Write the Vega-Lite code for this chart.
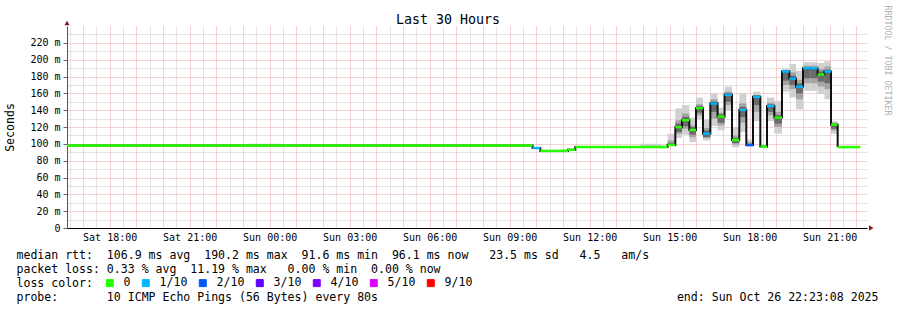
{
  "$schema": "https://vega.github.io/schema/vega-lite/v6.json",
  "width": 800,
  "height": 202,
  "autosize": {"type": "none"},
  "padding": {"left": 67, "top": 26, "right": 30, "bottom": 82},
  "background": "#ffffff",
  "config": {"view": {"stroke": null}, "font": "DejaVu Sans Mono"},
  "title": {"text": "Last 30 Hours", "font": "DejaVu Sans Mono", "fontSize": 13.3, "fontWeight": "normal", "color": "#000000", "anchor": "middle", "frame": "group", "dx": -19, "dy": 23, "offset": 2},
  "datasets": {
    "steps": [
      {"t0": 16.4, "t1": 33.86, "med": 98, "loss": "0"},
      {"t0": 33.86, "t1": 34.15, "med": 95, "loss": "1/10"},
      {"t0": 34.15, "t1": 35.19, "med": 91.6, "loss": "0"},
      {"t0": 35.19, "t1": 35.46, "med": 93, "loss": "0"},
      {"t0": 35.46, "t1": 38.923, "med": 96.3, "loss": "0"},
      {"t0": 38.923, "t1": 39.212, "med": 98.7, "loss": "0"},
      {"t0": 39.212, "t1": 39.461, "med": 119.7, "loss": "0"},
      {"t0": 39.461, "t1": 39.737, "med": 128, "loss": "0"},
      {"t0": 39.737, "t1": 39.987, "med": 116.5, "loss": "0"},
      {"t0": 39.987, "t1": 40.25, "med": 142.3, "loss": "0"},
      {"t0": 40.25, "t1": 40.525, "med": 112.1, "loss": "1/10"},
      {"t0": 40.525, "t1": 40.797, "med": 147.8, "loss": "1/10"},
      {"t0": 40.797, "t1": 41.06, "med": 132.4, "loss": "0"},
      {"t0": 41.06, "t1": 41.337, "med": 158.2, "loss": "1/10"},
      {"t0": 41.337, "t1": 41.611, "med": 104.6, "loss": "0"},
      {"t0": 41.611, "t1": 41.874, "med": 140.3, "loss": "1/10"},
      {"t0": 41.874, "t1": 42.125, "med": 98.5, "loss": "2/10"},
      {"t0": 42.125, "t1": 42.4, "med": 155.8, "loss": "1/10"},
      {"t0": 42.4, "t1": 42.65, "med": 96.7, "loss": "0"},
      {"t0": 42.65, "t1": 42.925, "med": 145, "loss": "1/10"},
      {"t0": 42.925, "t1": 43.212, "med": 131.2, "loss": "0"},
      {"t0": 43.212, "t1": 43.487, "med": 185.9, "loss": "1/10"},
      {"t0": 43.487, "t1": 43.737, "med": 177.5, "loss": "1/10"},
      {"t0": 43.737, "t1": 44.0, "med": 168, "loss": "1/10"},
      {"t0": 44.0, "t1": 44.275, "med": 189.8, "loss": "1/10"},
      {"t0": 44.275, "t1": 44.548, "med": 189.8, "loss": "1/10"},
      {"t0": 44.548, "t1": 44.8, "med": 182.3, "loss": "0"},
      {"t0": 44.8, "t1": 45.05, "med": 185.9, "loss": "1/10"},
      {"t0": 45.05, "t1": 45.3, "med": 122.8, "loss": "0"},
      {"t0": 45.3, "t1": 46.15, "med": 96.1, "loss": "0"}
    ],
    "smoke": [
      {"t0": 23.15, "t1": 24.5, "lo": 97, "q1": 98, "q3": 98, "hi": 100, "c1": 98, "c2": 98},
      {"t0": 37.9, "t1": 38.7, "lo": 96, "q1": 96, "q3": 96, "hi": 100, "c1": 96, "c2": 96},
      {"t0": 38.923, "t1": 39.212, "lo": 98, "q1": 99, "q3": 104, "hi": 112, "c1": 99, "c2": 101},
      {"t0": 39.212, "t1": 39.461, "lo": 107, "q1": 112, "q3": 128, "hi": 142, "c1": 114, "c2": 124},
      {"t0": 39.461, "t1": 39.737, "lo": 111, "q1": 118, "q3": 136, "hi": 146, "c1": 121, "c2": 132},
      {"t0": 39.737, "t1": 39.987, "lo": 102, "q1": 108, "q3": 122, "hi": 131, "c1": 111, "c2": 120},
      {"t0": 39.987, "t1": 40.25, "lo": 129, "q1": 134, "q3": 147, "hi": 155, "c1": 137, "c2": 145},
      {"t0": 40.25, "t1": 40.525, "lo": 104, "q1": 107, "q3": 119, "hi": 129, "c1": 108, "c2": 116},
      {"t0": 40.525, "t1": 40.797, "lo": 121, "q1": 130, "q3": 153, "hi": 160, "c1": 138, "c2": 150},
      {"t0": 40.797, "t1": 41.06, "lo": 116, "q1": 122, "q3": 137, "hi": 143, "c1": 125, "c2": 135},
      {"t0": 41.06, "t1": 41.337, "lo": 139, "q1": 146, "q3": 162, "hi": 168, "c1": 150, "c2": 160},
      {"t0": 41.337, "t1": 41.611, "lo": 96, "q1": 99, "q3": 110, "hi": 120, "c1": 101, "c2": 107},
      {"t0": 41.611, "t1": 41.874, "lo": 114, "q1": 125, "q3": 148, "hi": 160, "c1": 132, "c2": 144},
      {"t0": 41.874, "t1": 42.125, "lo": 97, "q1": 98, "q3": 102, "hi": 105, "c1": 98, "c2": 100},
      {"t0": 42.125, "t1": 42.4, "lo": 127, "q1": 138, "q3": 158, "hi": 162, "c1": 146, "c2": 157},
      {"t0": 42.65, "t1": 42.925, "lo": 127, "q1": 134, "q3": 149, "hi": 155, "c1": 138, "c2": 147},
      {"t0": 42.925, "t1": 43.212, "lo": 112, "q1": 120, "q3": 138, "hi": 151, "c1": 124, "c2": 134},
      {"t0": 43.212, "t1": 43.487, "lo": 162, "q1": 170, "q3": 187, "hi": 189, "c1": 175, "c2": 186},
      {"t0": 43.487, "t1": 43.737, "lo": 155, "q1": 165, "q3": 185, "hi": 195, "c1": 170, "c2": 181},
      {"t0": 43.737, "t1": 44.0, "lo": 141, "q1": 153, "q3": 176, "hi": 187, "c1": 160, "c2": 172},
      {"t0": 44.0, "t1": 44.275, "lo": 163, "q1": 172, "q3": 193, "hi": 197, "c1": 178, "c2": 190},
      {"t0": 44.275, "t1": 44.548, "lo": 163, "q1": 172, "q3": 193, "hi": 197, "c1": 178, "c2": 190},
      {"t0": 44.548, "t1": 44.8, "lo": 159, "q1": 168, "q3": 189, "hi": 196, "c1": 174, "c2": 186},
      {"t0": 44.8, "t1": 45.05, "lo": 153, "q1": 165, "q3": 192, "hi": 198, "c1": 172, "c2": 188},
      {"t0": 45.05, "t1": 45.3, "lo": 112, "q1": 116, "q3": 125, "hi": 127, "c1": 118, "c2": 124}
    ]
  },
  "layer": [
    {
      "data": {"name": "smoke"},
      "mark": {"type": "rect", "color": "#d0d0d0"},
      "encoding": {
        "x": {"field": "t0", "type": "quantitative", "scale": {"domain": [16.4, 46.4], "nice": false, "zero": false},
          "axis": {"orient": "bottom", "values": [16.5,17.5,18.5,19.5,20.5,21.5,22.5,23.5,24.5,25.5,26.5,27.5,28.5,29.5,30.5,31.5,32.5,33.5,34.5,35.5,36.5,37.5,38.5,39.5,40.5,41.5,42.5,43.5,44.5,45.5],
            "grid": true, "gridColor": "#c8c8c8", "gridDash": [1, 1], "gridWidth": 1, "labels": false, "ticks": false, "domain": false, "title": null}},
        "x2": {"field": "t1"},
        "y": {"field": "lo", "type": "quantitative", "scale": {"domain": [0, 240], "nice": false, "zero": true},
          "axis": {"orient": "right", "values": [10,30,50,70,90,110,130,150,170,190,210,230],
            "grid": true, "gridColor": "#c8c8c8", "gridDash": [1, 1], "gridWidth": 1, "labels": false, "ticks": false, "domain": false,
            "title": "RRDTOOL / TOBI OETIKER", "titleAngle": 90, "titleX": 19, "titleY": -21, "titleAlign": "left", "titleBaseline": "middle",
            "titleFont": "DejaVu Sans Mono", "titleFontSize": 8.3, "titleFontWeight": "normal", "titleColor": "#b0b0b0"}},
        "y2": {"field": "hi"}
      }
    },
    {
      "data": {"name": "smoke"},
      "mark": {"type": "rect", "color": "#a4a4a4"},
      "encoding": {
        "x": {"field": "t0", "type": "quantitative", "scale": {"domain": [16.4, 46.4], "nice": false, "zero": false},
          "axis": {"orient": "bottom", "values": [17,18,19,20,21,22,23,24,25,26,27,28,29,30,31,32,33,34,35,36,37,38,39,40,41,42,43,44,45,46],
            "grid": true, "gridColor": "#f0a6a6", "gridDash": [1, 1], "gridWidth": 1, "labels": false, "ticks": false, "domain": false, "title": null}},
        "x2": {"field": "t1"},
        "y": {"field": "q1", "type": "quantitative", "scale": {"domain": [0, 240], "nice": false, "zero": true},
          "axis": {"orient": "left", "values": [20,40,60,80,100,120,140,160,180,200,220],
            "grid": true, "gridColor": "#f0a6a6", "gridDash": [1, 1], "gridWidth": 1, "labels": false, "ticks": false, "domain": false, "title": null}},
        "y2": {"field": "q3"}
      }
    },
    {
      "data": {"name": "smoke"},
      "mark": {"type": "rect", "color": "#6a6a6a"},
      "encoding": {
        "x": {"field": "t0", "type": "quantitative", "scale": {"domain": [16.4, 46.4], "nice": false, "zero": false}, "axis": null},
        "x2": {"field": "t1"},
        "y": {"field": "c1", "type": "quantitative", "scale": {"domain": [0, 240], "nice": false, "zero": true}, "axis": null},
        "y2": {"field": "c2"}
      }
    },
    {
      "data": {"name": "steps"},
      "mark": {"type": "line", "interpolate": "step-after", "color": "#111111", "strokeWidth": 2},
      "encoding": {
        "x": {"field": "t0", "type": "quantitative", "scale": {"domain": [16.4, 46.4], "nice": false, "zero": false},
          "axis": {"orient": "bottom", "values": [18,21,24,27,30,33,36,39,42,45], "grid": false, "ticks": false,
            "domain": true, "domainColor": "#000000", "domainWidth": 1,
            "labelExpr": "(datum.value < 24 ? 'Sat ' : 'Sun ') + ((datum.value % 24) < 10 ? '0' : '') + (datum.value % 24) + ':00'",
            "labelFont": "DejaVu Sans Mono", "labelFontSize": 10, "labelColor": "#000000", "labelPadding": 4,
            "title": ["median rtt:\u00a0\u00a0106.9 ms avg\u00a0\u00a0190.2 ms max\u00a0\u00a091.6 ms min\u00a0\u00a096.1 ms now\u00a0\u00a0\u00a023.5 ms sd\u00a0\u00a0\u00a04.5\u00a0\u00a0\u00a0am/s",
                      "packet loss: 0.33 % avg\u00a0\u00a011.19 % max\u00a0\u00a0\u00a00.00 % min\u00a0\u00a00.00 % now",
                      "loss color:",
                      "probe:\u00a0\u00a0\u00a0\u00a0\u00a0\u00a0\u00a010 ICMP Echo Pings (56 Bytes) every 80s\u00a0\u00a0\u00a0\u00a0\u00a0\u00a0\u00a0\u00a0\u00a0\u00a0\u00a0\u00a0\u00a0\u00a0\u00a0\u00a0\u00a0\u00a0\u00a0\u00a0\u00a0\u00a0\u00a0\u00a0\u00a0\u00a0\u00a0\u00a0\u00a0\u00a0\u00a0\u00a0\u00a0\u00a0\u00a0\u00a0\u00a0\u00a0\u00a0\u00a0\u00a0\u00a0\u00a0end: Sun Oct 26 22:23:08 2025"],
            "titleX": -51, "titleY": 30.3, "titleAlign": "left", "titleBaseline": "alphabetic", "titleAngle": 0,
            "titleFont": "DejaVu Sans Mono", "titleFontSize": 11.56, "titleFontWeight": "normal", "titleColor": "#000000", "titleLineHeight": 14}},
        "y": {"field": "med", "type": "quantitative", "scale": {"domain": [0, 240], "nice": false, "zero": true},
          "axis": {"orient": "left", "values": [0,20,40,60,80,100,120,140,160,180,200,220], "grid": false,
            "ticks": true, "tickSize": 4, "tickColor": "#666666", "domain": true, "domainColor": "#555555", "domainWidth": 1,
            "labelExpr": "datum.value == 0 ? '0' : datum.value + ' m'",
            "labelFont": "DejaVu Sans Mono", "labelFontSize": 10, "labelColor": "#000000", "labelPadding": 3,
            "title": "Seconds", "titleX": -57, "titleY": 101, "titleAngle": -90, "titleAlign": "center", "titleBaseline": "middle",
            "titleFont": "DejaVu Sans Mono", "titleFontSize": 11.56, "titleFontWeight": "normal", "titleColor": "#000000"}}
      }
    },
    {
      "data": {"name": "steps"},
      "mark": {"type": "rule", "strokeWidth": 2.5, "strokeCap": "butt"},
      "encoding": {
        "x": {"field": "t0", "type": "quantitative", "scale": {"domain": [16.4, 46.4], "nice": false, "zero": false}, "axis": null},
        "x2": {"field": "t1"},
        "y": {"field": "med", "type": "quantitative", "scale": {"domain": [0, 240], "nice": false, "zero": true}, "axis": null},
        "color": {"field": "loss", "type": "nominal",
          "scale": {"domain": ["0","1/10","2/10","3/10","4/10","5/10","9/10"], "range": ["#26ff00","#00b8ff","#0059ff","#5e00ff","#7e00ff","#dd00ff","#ff0000"]},
          "legend": {"orient": "none", "legendX": 37, "legendY": 251, "direction": "horizontal", "padding": 0, "title": null,
            "labelFont": "DejaVu Sans Mono", "labelFontSize": 11.56, "labelColor": "#000000", "labelOffset": 8,
            "symbolType": "square", "symbolSize": 49, "symbolStrokeWidth": 1, "columnPadding": 9,
            "encode": {"symbols": {"update": {"fill": {"scale": "color", "field": "value"}, "stroke": {"value": "#000000"}, "strokeWidth": {"value": 1}, "fillOpacity": {"value": 1}, "opacity": {"value": 1}}}}}}
      }
    },
    {
      "data": {"values": [{"k": 1}]},
      "mark": {"type": "point", "filled": true, "shape": "triangle-up", "size": 28, "color": "#8b1a1a", "opacity": 1},
      "encoding": {
        "x": {"datum": 16.4, "type": "quantitative", "scale": {"domain": [16.4, 46.4], "nice": false, "zero": false}, "axis": null},
        "y": {"datum": 243.5, "type": "quantitative", "scale": {"domain": [0, 240], "nice": false, "zero": true}, "axis": null}
      }
    },
    {
      "data": {"values": [{"k": 1}]},
      "mark": {"type": "point", "filled": true, "shape": "triangle-right", "size": 28, "color": "#8b1a1a", "opacity": 1},
      "encoding": {
        "x": {"datum": 46.56, "type": "quantitative", "scale": {"domain": [16.4, 46.4], "nice": false, "zero": false}, "axis": null},
        "y": {"datum": 0, "type": "quantitative", "scale": {"domain": [0, 240], "nice": false, "zero": true}, "axis": null}
      }
    }
  ],
  "resolve": {"axis": {"x": "independent", "y": "independent"}}
}
